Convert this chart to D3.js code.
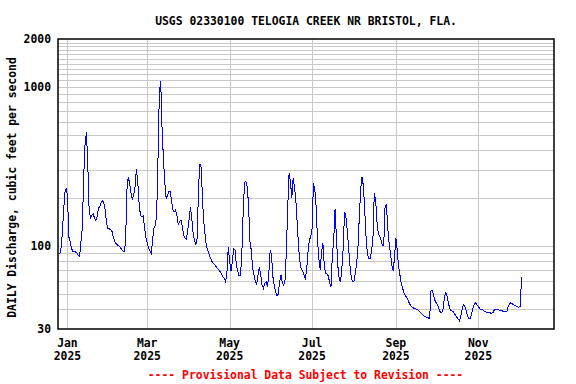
<!DOCTYPE html>
<html>
<head>
<meta charset="utf-8">
<script src="https://cdn.jsdelivr.net/npm/d3@7"></script>
<style>
  body { margin: 0; background: #fff; }
  svg text { font-family: "DejaVu Sans Mono", "Liberation Mono", monospace; font-weight: bold; font-size: 11.4px; }
</style>
</head>
<body>
<svg id="chart" width="576" height="384"></svg>
<script>
// Daily mean discharge (cfs), one value per day starting at firstDay.
const firstDay = "2024-12-26";
const flowDec2024 = [88.9, 91.5, 115, 156, 216, 230];
const flowJan = [209, 114, 106, 96.5, 91.9, 91.5, 91.5, 90.2, 87.2, 85.9, 106, 129, 272, 431, 518, 339,
    172, 150, 156, 159, 150, 145, 153, 173, 177, 187, 193, 185, 166, 137, 128];
const flowFeb = [128, 126, 123, 113, 106, 103, 101, 99.8, 97.9, 95.5, 92.8, 92.8, 106, 225, 271, 247,
    214, 197, 209, 236, 303, 253, 185, 156, 153, 154, 132, 114];
const flowMar = [104, 97.4, 92.8, 89.8, 109, 129, 135, 156, 355, 930, 1080, 549, 355, 253, 199, 207,
    219, 219, 194, 168, 164, 168, 156, 136, 142, 145, 133, 117, 112, 110, 126];
const flowApr = [147, 175, 149, 120, 108, 101, 112, 236, 327, 312, 185, 139, 113, 97.9, 93.3, 87.6,
    83.1, 79.6, 77.3, 75.8, 74.0, 72.2, 70.5, 68.8, 66.5, 64.0, 62.5, 59.6, 67.8, 97.9];
const flowMay = [79.6, 69.5, 79.6, 96.0, 94.2, 75.8, 69.8, 64.6, 65.6, 87.6, 160, 251, 255, 236, 181,
    106, 94.2, 72.2, 65.6, 60.1, 57.3, 65.6, 74.0, 65.6, 56.7, 54.1, 58.1, 59.6, 54.9, 67.2, 94.2];
const flowJun = [87.6, 64.0, 56.7, 51.5, 48.4, 49.8, 59.6, 65.6, 58.1, 56.7, 61.0, 94.2, 176, 286, 253,
    199, 266, 236, 194, 139, 98.8, 79.6, 71.5, 69.8, 65.6, 62.5, 70.5, 91.9, 109, 114];
const flowJul = [129, 247, 227, 176, 109, 83.5, 70.5, 91.9, 104, 75.8, 67.2, 66.5, 64.6, 58.7, 55.4,
    87.6, 109, 170, 114, 75.8, 62.5, 59.6, 71.2, 96.5, 164, 153, 126, 98.8, 75.8, 63.4, 59.6];
const flowAug = [60.1, 67.8, 76.9, 101, 156, 230, 272, 236, 164, 112, 88.5, 83.1, 83.5, 92.8, 109, 214,
    196, 142, 119, 115, 109, 101, 101, 176, 181, 129, 104, 88.9, 75.8, 69.5, 84.7];
const flowSep = [112, 94.2, 74.0, 65.6, 58.1, 54.1, 50.8, 48.9, 47.2, 45.7, 43.5, 42.1, 41.3, 40.7, 40.3,
    40.1, 39.7, 39.1, 38.2, 37.6, 36.7, 36.1, 35.7, 35.5, 35.2, 35.0, 52.3, 52.3, 48.4, 45.2];
const flowOct = [43.5, 42.3, 39.9, 38.0, 38.0, 40.5, 47.9, 50.8, 47.9, 43.1, 40.1, 39.1, 38.8, 38.0, 36.7,
    35.7, 34.8, 33.8, 35.9, 39.5, 42.7, 41.9, 39.1, 36.4, 35.0, 35.0, 37.1, 40.7, 43.1, 43.9, 42.5];
const flowNov = [41.5, 40.3, 39.7, 39.9, 39.1, 38.6, 38.2, 38.2, 38.2, 37.8, 37.6, 38.2, 39.9, 40.1, 39.7,
    39.5, 39.5, 39.3, 38.9, 38.8, 38.9, 38.6, 41.1, 43.1, 43.9, 43.3, 42.7, 42.3, 41.9, 41.3];
const flowDec2025 = [41.1, 41.5, 64.0];

// Axis ticks and labels
const yLabelTicks = [30, 100, 1000, 2000];
const yGridTicks = [40, 50, 60, 70, 80, 90, 100, 200, 300, 400, 500, 600, 700, 800, 900, 1000,
    1100, 1200, 1300, 1400, 1500, 1600, 1700, 1800, 1900];
const monthTicks = ["2025-01-01", "2025-03-01", "2025-05-01", "2025-07-01", "2025-09-01", "2025-11-01"];
const monthLabels = ["Jan", "Mar", "May", "Jul", "Sep", "Nov"];
const yearLabel = "2025";

const titleText = "USGS 02330100 TELOGIA CREEK NR BRISTOL, FLA.";
const yTitle = "DAILY Discharge, cubic feet per second";
const footText = "---- Provisional Data Subject to Revision ----";

const parseDay = d3.timeParse("%Y-%m-%d");

// Build the daily series.
const allFlow = [].concat(flowDec2024, flowJan, flowFeb, flowMar, flowApr, flowMay, flowJun,
    flowJul, flowAug, flowSep, flowOct, flowNov, flowDec2025);
const startDay = parseDay(firstDay);
const series = allFlow.map((v, i) => ({ date: d3.timeDay.offset(startDay, i), value: v }));

// Plot frame
let plot = { left: 58, right: 554, top: 39, bottom: 329 };

let svg = d3.select("#chart");

let x = d3.scaleTime()
    .domain([parseDay("2024-12-25"), parseDay("2025-12-27")])
    .range([plot.left, plot.right]);

let y = d3.scaleLog()
    .domain([30, 2000])
    .range([plot.bottom, plot.top]);

// Horizontal grid lines
svg.append("g")
    .attr("transform", "translate(" + plot.left + ",0)")
    .call(d3.axisLeft(y).tickValues(yGridTicks).tickSize(-(plot.right - plot.left)).tickFormat(""))
    .call(g => g.select(".domain").remove())
    .call(g => g.selectAll("line").attr("stroke", "#c8c8c8").attr("shape-rendering", "crispEdges"));

// Vertical grid lines
svg.append("g")
    .attr("transform", "translate(0," + plot.bottom + ")")
    .call(d3.axisBottom(x).tickValues(monthTicks.map(parseDay)).tickSize(-(plot.bottom - plot.top)).tickFormat(""))
    .call(g => g.select(".domain").remove())
    .call(g => g.selectAll("line").attr("stroke", "#c8c8c8").attr("shape-rendering", "crispEdges"));

// Discharge line
svg.append("path")
    .datum(series)
    .attr("fill", "none")
    .attr("stroke", "#0000ff")
    .attr("stroke-width", 1)
    .attr("shape-rendering", "crispEdges")
    .attr("d", d3.line().x(d => x(d.date)).y(d => y(d.value)));

// Frame
svg.append("rect")
    .attr("x", plot.left)
    .attr("y", plot.top)
    .attr("width", plot.right - plot.left)
    .attr("height", plot.bottom - plot.top)
    .attr("fill", "none")
    .attr("stroke", "#000")
    .attr("stroke-width", 1.5);

// Y tick labels
svg.append("g")
    .attr("transform", "translate(" + plot.left + ",0)")
    .call(d3.axisLeft(y).tickValues(yLabelTicks).tickSize(0).tickPadding(7).tickFormat(d3.format("d")))
    .call(g => g.select(".domain").remove())
    .call(g => g.attr("font-family", null).attr("font-size", null))
    .call(g => g.selectAll("text").attr("fill", "#000"));

// X tick labels (month + year)
let xLabels = svg.append("g");
monthTicks.forEach((m, i) => {
    let cx = x(parseDay(m));
    xLabels.append("text")
        .attr("x", cx)
        .attr("y", 346.5)
        .attr("text-anchor", "middle")
        .text(monthLabels[i]);
    xLabels.append("text")
        .attr("x", cx)
        .attr("y", 359.5)
        .attr("text-anchor", "middle")
        .text(yearLabel);
});

// Title
svg.append("text")
    .attr("x", (plot.left + plot.right) / 2)
    .attr("y", 25)
    .attr("text-anchor", "middle")
    .text(titleText);

// Y axis title
svg.append("text")
    .attr("transform", "translate(15.5,187.5) rotate(-90)")
    .attr("text-anchor", "middle")
    .text(yTitle);

// Provisional footer
svg.append("text")
    .attr("x", 305.5)
    .attr("y", 378.5)
    .attr("text-anchor", "middle")
    .attr("fill", "#ff0000")
    .text(footText);
</script>
</body>
</html>
